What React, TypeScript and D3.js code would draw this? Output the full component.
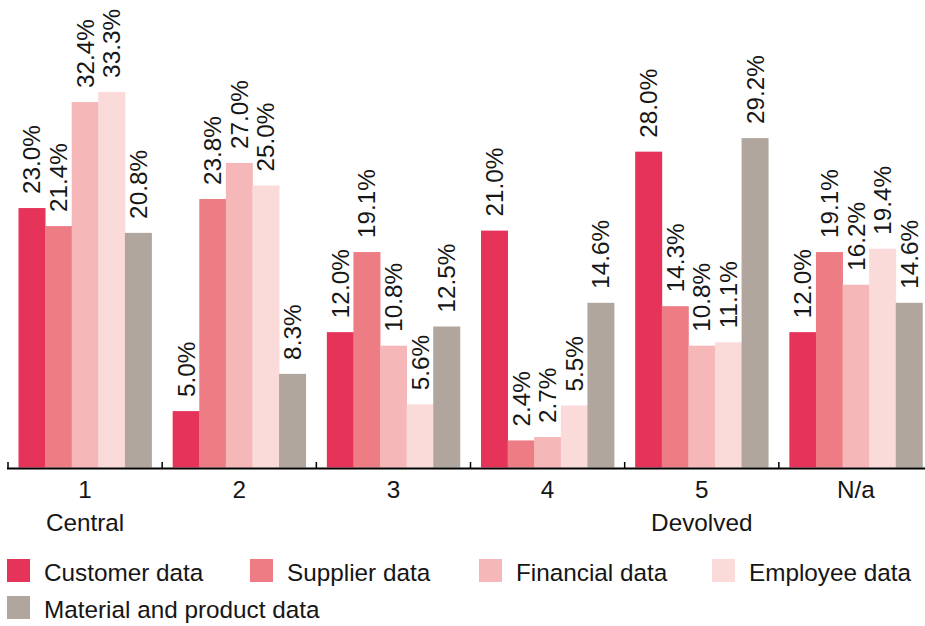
import React from "react";
import * as d3 from "d3";

const categories = ["1", "2", "3", "4", "5", "N/a"];
const categorySubLabels = ["Central", "", "", "", "Devolved", ""];
const seriesNames = [
  "Customer data",
  "Supplier data",
  "Financial data",
  "Employee data",
  "Material and product data",
];
const customerData = [23.0, 5.0, 12.0, 21.0, 28.0, 12.0];
const supplierData = [21.4, 23.8, 19.1, 2.4, 14.3, 19.1];
const financialData = [32.4, 27.0, 10.8, 2.7, 10.8, 16.2];
const employeeData = [33.3, 25.0, 5.6, 5.5, 11.1, 19.4];
const materialData = [20.8, 8.3, 12.5, 14.6, 29.2, 14.6];
const seriesColors = ["#E5335A", "#ED7C84", "#F5B7B8", "#FADBDA", "#B0A69D"];

const seriesValues = [customerData, supplierData, financialData, employeeData, materialData];

const W = 925;
const H = 626;
const FONT = "'Liberation Sans', Arial, Helvetica, sans-serif";
const FS = 24.3;
const TEXT = "#161616";

// legend layout (x of each item's swatch, row index)
const LEGEND_X = [7, 250, 479, 712, 7];
const LEGEND_ROW = [0, 0, 0, 0, 1];

export default function App() {
  const baseline = 467.5;
  const pxPerUnit = 11.28;
  const yMax = baseline / pxPerUnit;
  const y = d3.scaleLinear().domain([0, yMax]).range([baseline, 0]);
  const bandW = 154.17;
  const x0 = d3
    .scaleBand<string>()
    .domain(categories)
    .range([8, 8 + bandW * categories.length])
    .paddingInner(0)
    .paddingOuter(0);
  const x1 = d3
    .scaleBand<string>()
    .domain(seriesNames)
    .range([10.5, 143.5])
    .padding(0);
  const bw = x1.bandwidth();
  const capH = FS * 0.716;

  const swatch = 23;
  const textGap = 14;

  const ticks = d3.range(categories.length + 1).map((i) => 8 + i * bandW);

  return (
    <svg
      width={W}
      height={H}
      style={{ position: "absolute", left: 0, top: 0, background: "#fff" }}
      fontFamily={FONT}
    >
      {categories.map((cat, ci) => (
        <g key={cat} transform={`translate(${x0(cat)},0)`}>
          {seriesNames.map((s, si) => {
            const v = seriesValues[si][ci];
            const bx = x1(s)!;
            return (
              <g key={s}>
                <rect
                  x={bx}
                  y={y(v)}
                  width={bw + 0.4}
                  height={baseline - y(v)}
                  fill={seriesColors[si]}
                />
                <text
                  transform={`translate(${bx + bw / 2 + capH / 2},${y(v) - 14}) rotate(-90)`}
                  fontSize={FS}
                  fill={TEXT}
                  textAnchor="start"
                >
                  {v.toFixed(1) + "%"}
                </text>
              </g>
            );
          })}
        </g>
      ))}
      <line x1={7} x2={W + 10} y1={468.5} y2={468.5} stroke="#000" strokeWidth={2} />
      {ticks.map((t, i) => (
        <line key={i} x1={t} x2={t} y1={462} y2={468} stroke="#000" strokeWidth={1.5} />
      ))}
      {categories.map((cat, ci) => {
        const cxm = x0(cat)! + bandW / 2;
        return (
          <g key={cat}>
            <text x={cxm} y={497.5} fontSize={FS} fill={TEXT} textAnchor="middle">
              {cat}
            </text>
            {categorySubLabels[ci] && (
              <text x={cxm} y={531} fontSize={FS} fill={TEXT} textAnchor="middle">
                {categorySubLabels[ci]}
              </text>
            )}
          </g>
        );
      })}
      {seriesNames.map((name, i) => {
        const lx = LEGEND_X[i];
        const ty = 559 + LEGEND_ROW[i] * 37;
        return (
          <g key={name}>
            <rect x={lx} y={ty} width={swatch} height={swatch} fill={seriesColors[i]} />
            <text x={lx + swatch + textGap} y={ty + 22} fontSize={FS} fill={TEXT}>
              {name}
            </text>
          </g>
        );
      })}
    </svg>
  );
}
